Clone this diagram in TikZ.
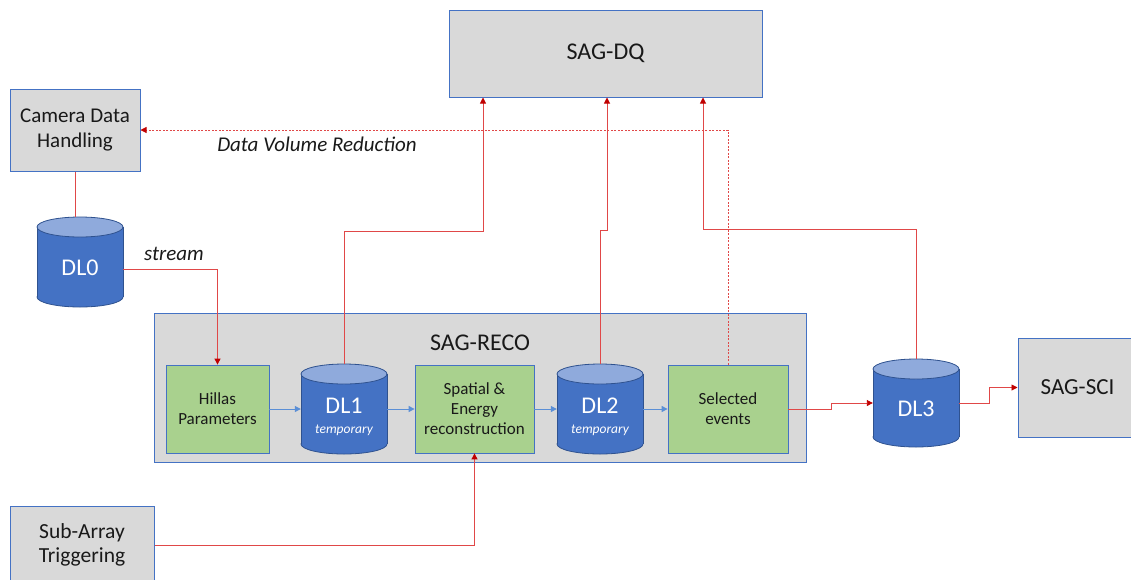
\documentclass[tikz,border=0pt]{standalone}
\usepackage{fontspec}
\setmainfont{Carlito}
\usetikzlibrary{arrows.meta}
\definecolor{boxgray}{HTML}{D9D9D9}
\definecolor{boxblue}{HTML}{4472C4}
\definecolor{boxgreen}{HTML}{A9D18E}
\definecolor{cylbody}{HTML}{4472C4}
\definecolor{cyltop}{HTML}{8FAADC}
\definecolor{cylrim}{HTML}{2F528F}
\definecolor{linkred}{HTML}{E04848}
\definecolor{tipred}{HTML}{C00000}
\definecolor{flowblue}{HTML}{5B8FD6}

\tikzset{
  graybox/.style={draw=boxblue, line width=1pt, fill=boxgray, inner sep=0pt, align=center, text=black!90},
  greenbox/.style={draw=boxblue, line width=0.8pt, fill=boxgreen, inner sep=0pt, align=center,
    minimum height=88pt, font=\fontsize{17}{20}\selectfont, text=black!90},
  redlink/.style={draw=linkred, line width=0.9pt},
  redarrow/.style={redlink, -{Triangle[length=6pt,width=6pt,fill=tipred,color=tipred]}},
  bluearrow/.style={draw=flowblue, line width=1pt, -{Triangle[length=6pt,width=6pt]}},
  cyltext/.style={text=white, font=\fontsize{24}{26}\selectfont},
  tmptext/.style={text=white, font=\fontsize{13.5}{15}\itshape\selectfont},
  notetext/.style={text=black!90, font=\fontsize{21}{24}\itshape\selectfont},
}

% database drum: name, centre x, top y, bottom y (half width 43, cap radius 10)
\newcommand{\dbcyl}[4]{%
  \filldraw[fill=cylbody, draw=cylrim, line width=0.8pt] (#2,#4-10) ellipse [x radius=43pt, y radius=10pt];
  \fill[cylbody] (#2-43,#3+10) rectangle (#2+43,#4-10);
  \draw[cylrim, line width=0.8pt] (#2-43,#3+10) -- (#2-43,#4-10) (#2+43,#3+10) -- (#2+43,#4-10);
  \filldraw[fill=cyltop, draw=cylrim, line width=0.8pt] (#2,#3+10) ellipse [x radius=43pt, y radius=10pt];
  \node[inner sep=0pt, minimum width=86pt, minimum height={(#4-#3)*1pt}] (#1) at (#2,{(#3+#4)/2}) {};
}

\begin{document}
\begin{tikzpicture}[x=1pt, y=-1pt]
\useasboundingbox (0,0) rectangle (1131,579);
\clip (0,0) rectangle (1131,579);

% outer boxes
\node[graybox, minimum width=313pt, minimum height=87pt, font=\fontsize{24}{26}\selectfont]
  (dq) at (605.5,53.5) {SAG-DQ};
\node[graybox, minimum width=130pt, minimum height=82pt, font=\fontsize{21}{25}\selectfont]
  (cam) at (75,130) {Camera Data\\Handling};
\node[graybox, minimum width=144pt, minimum height=78pt, font=\fontsize{21.5}{24}\selectfont]
  (sub) at (82,545) {Sub-Array\\Triggering};
\node[graybox, minimum width=119pt, minimum height=99pt, font=\fontsize{23}{26}\selectfont]
  (sci) at (1077.5,387.5) {SAG-SCI};
\node[graybox, minimum width=652pt, minimum height=149pt] (reco) at (480,387.5) {};
\node[font=\fontsize{24}{26}\selectfont, text=black!90] (recolabel) at (480,343) {SAG-RECO};

% processing steps
\node[greenbox, minimum width=103pt] (hil) at (217.5,409) {Hillas\\Parameters};
\node[greenbox, minimum width=119pt] (spa) at (474.5,409) {Spatial \&\\Energy\\reconstruction};
\node[greenbox, minimum width=120pt] (sel) at (728,409) {Selected\\events};

% data levels
\dbcyl{DL0}{80}{217}{307}
\node[cyltext] (DL0text) at (80,268) {DL0};
\dbcyl{DL1}{344}{364}{454}
\node[cyltext] (DL1text) at (344,406) {DL1};
\node[tmptext] (DL1tmp) at (344,430) {temporary};
\dbcyl{DL2}{600}{364}{454}
\node[cyltext] (DL2text) at (600,406) {DL2};
\node[tmptext] (DL2tmp) at (600,430) {temporary};
\dbcyl{DL3}{916}{359}{447}
\node[cyltext] (DL3text) at (916,409) {DL3};

% bends of the routed links
\coordinate (b1) at (483,231);
\coordinate (b2) at (607,230);
\coordinate (b3) at (703,229);
\coordinate (b4) at (831,403);
\coordinate (b5) at (989,387.5);

% flow inside SAG-RECO
\draw[bluearrow] (hil.east) -- (DL1.west);
\draw[bluearrow] (DL1.east) -- (spa.west);
\draw[bluearrow] (spa.east) -- (DL2.west);
\draw[bluearrow] (DL2.east) -- (sel.west);

% camera to DL0 and the stream into the reconstruction
\draw[redlink] (cam.south) -- (cam.south |- DL0.north);
\draw[redarrow] ([yshift=-7pt]DL0.east) -| (hil.north);
\node[notetext] (streamlabel) at (174,254) {stream};

% data quality feeds
\draw[redarrow] (DL1.north) |- (b1) -- (b1 |- dq.south);
\draw[redarrow] (DL2.north) |- (b2) -- (b2 |- dq.south);
\draw[redarrow] (DL3.north) |- (b3) -- (b3 |- dq.south);

% feedback to the camera
\draw[redarrow, dash pattern=on 2pt off 1.5pt, line width=0.8pt] (sel.north) |- (cam.east);
\node[notetext] (dvrlabel) at (317,144) {Data Volume Reduction};

% triggering, DL3 and science output
\draw[redarrow] (sub.east) -| (spa.south);
\draw[redarrow] (sel.east) -| (b4) -- (DL3.west);
\draw[redarrow] (DL3.east) -| (b5) -- (sci.west);
\end{tikzpicture}
\end{document}
